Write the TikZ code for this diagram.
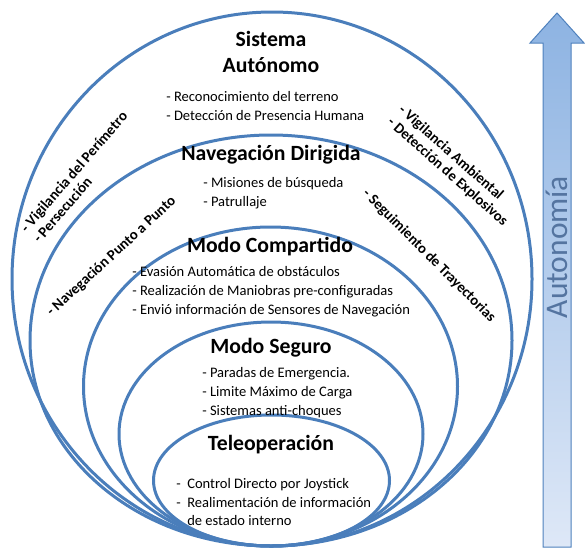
\documentclass[tikz,border=0pt]{standalone}
\usepackage{fontspec}
\setmainfont{Carlito}

\begin{document}
\begin{tikzpicture}[x=0.75pt,y=0.75pt,yscale=-1,xscale=1,
  ring/.style={draw={rgb, 255:red, 74; green, 126; blue, 187}, line width=2.25},
  title/.style={font=\fontsize{16.3}{19.5}\selectfont\bfseries, align=center, inner sep=0},
  items/.style={font=\fontsize{10.9}{14.1}\selectfont, align=left, anchor=north west, inner sep=0},
  slant/.style={font=\fontsize{11.1}{12.4}\selectfont\bfseries, align=left, inner sep=0}]
%set diagram left start at 0, and has height of 554
\useasboundingbox (0,0) rectangle (585,554);

%Shape: Ellipse [Sistema Autonomo]
\draw [ring] (272,279) ellipse [x radius=260, y radius=267];
%Shape: Ellipse [Navegacion Dirigida]
\draw [ring] (271,340.5) ellipse [x radius=241, y radius=205.5];
%Shape: Ellipse [Modo Compartido]
\draw [ring] (270.5,386.5) ellipse [x radius=187, y radius=159.5];
%Shape: Ellipse [Modo Seguro]
\draw [ring] (271,434) ellipse [x radius=152, y radius=112];
%Shape: Ellipse [Teleoperacion]
\draw [ring] (271.5,480.5) ellipse [x radius=118, y radius=65.5];

%Shape: Up Arrow
\shade [top color={rgb, 255:red, 141; green, 179; blue, 226}, bottom color={rgb, 255:red, 222; green, 232; blue, 247}, draw={rgb, 255:red, 79; green, 129; blue, 189}, line width=0.75]
  (543,547) -- (543,43) -- (530,43) -- (557,13) -- (584,43) -- (571,43) -- (571,547) -- cycle;
% Text Node
\node (autonomia) at (557,247) [rotate=90, font=\fontsize{23.6}{26}\selectfont, text={rgb, 255:red, 84; green, 116; blue, 160}] {Autonomía};

% Text Node
\node (sisTitle) at (271,52) [title] {Sistema\\Autónomo};
\node (sisItems) at (166,91) [items] {- Reconocimiento del terreno\\- Detección de Presencia Humana};

% Text Node
\node (navTitle) at (271,154.5) [title] {Navegación Dirigida};
\node (navItems) at (203,177) [items] {- Misiones de búsqueda\\- Patrullaje};

% Text Node
\node (comTitle) at (270,247) [title] {Modo Compartido};
\node (comItems) at (132,266.5) [items] {- Evasión Automática de obstáculos\\- Realización de Maniobras pre-configuradas\\- Envió información de Sensores de Navegación};

% Text Node
\node (segTitle) at (271,347.5) [title] {Modo Seguro};
\node (segItems) at (202,367.5) [items] {- Paradas de Emergencia.\\- Limite Máximo de Carga\\- Sistemas anti-choques};

% Text Node
\node (telTitle) at (271,444.5) [title] {Teleoperación};
\node (telItems) at (176,478) [items] {-\ \ Control Directo por Joystick\\-\ \ Realimentación de información\\\hphantom{-\ \ }de estado interno};

% Rotated Text Nodes
\node (perimetro) at (80,177) [slant, rotate=49] {- Vigilancia del Perímetro\\- Persecución};
\node (puntoPunto) at (111.5,256.5) [slant, rotate=42.6] {- Navegación Punto a Punto};
\node (ambiental) at (453,166) [slant, rotate=-41.5] {- Vigilancia Ambiental\\- Detección de Explosivos};
\node (trayectorias) at (429,256) [slant, rotate=-45] {- Seguimiento de Trayectorias};

\end{tikzpicture}
\end{document}
